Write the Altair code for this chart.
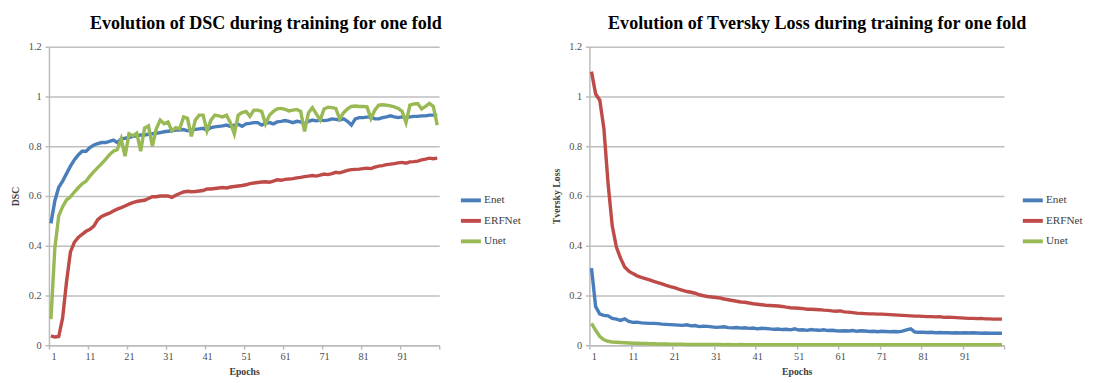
import altair as alt
import pandas as pd

models = ["Enet", "ERFNet", "Unet"]
colors = ["#4A7EBB", "#BE4B48", "#98B954"]
epochs = list(range(1, 101))

dsc_enet = [
    0.49, 0.58, 0.635, 0.66, 0.69, 0.72, 0.745, 0.765, 0.78, 0.78,
    0.795, 0.805, 0.81, 0.815, 0.815, 0.82, 0.825, 0.815, 0.83, 0.832,
    0.835, 0.84, 0.842, 0.845, 0.845, 0.848, 0.85, 0.852, 0.855, 0.858,
    0.86, 0.862, 0.865, 0.865, 0.867, 0.862, 0.865, 0.868, 0.87, 0.872,
    0.865, 0.875, 0.878, 0.88, 0.882, 0.885, 0.88, 0.885, 0.888, 0.88,
    0.89, 0.892, 0.895, 0.895, 0.885, 0.893, 0.895, 0.89, 0.898, 0.9,
    0.903, 0.9, 0.895, 0.9, 0.898, 0.89, 0.9, 0.905, 0.902, 0.905,
    0.903, 0.905, 0.91, 0.908, 0.905, 0.91, 0.9, 0.885, 0.91, 0.915,
    0.915, 0.917, 0.918, 0.91, 0.91, 0.915, 0.918, 0.922, 0.918, 0.915,
    0.918, 0.915, 0.918, 0.92, 0.92, 0.922, 0.922, 0.925, 0.925, 0.925,
]
dsc_erfnet = [
    0.038, 0.033, 0.035, 0.11, 0.255, 0.375, 0.414, 0.433, 0.446, 0.458,
    0.466, 0.479, 0.505, 0.518, 0.525, 0.531, 0.54, 0.547, 0.553, 0.56,
    0.567, 0.573, 0.578, 0.581, 0.583, 0.59, 0.597, 0.597, 0.6, 0.6,
    0.6, 0.594, 0.603, 0.61, 0.616, 0.619, 0.617, 0.618, 0.62, 0.622,
    0.628, 0.628, 0.63, 0.632, 0.634, 0.632, 0.636, 0.638, 0.64, 0.642,
    0.645, 0.65, 0.652, 0.654, 0.656, 0.657, 0.655, 0.66, 0.665, 0.663,
    0.667, 0.668, 0.67, 0.673, 0.675, 0.678, 0.68, 0.682, 0.68, 0.684,
    0.688, 0.686, 0.69, 0.695, 0.693, 0.698, 0.703, 0.706, 0.707, 0.708,
    0.71, 0.712, 0.71, 0.716, 0.72, 0.722, 0.726, 0.728, 0.73, 0.733,
    0.735, 0.732, 0.737, 0.738, 0.74, 0.745, 0.748, 0.752, 0.75, 0.752,
]
dsc_unet = [
    0.105, 0.39, 0.52, 0.557, 0.584, 0.597, 0.616, 0.633, 0.649, 0.659,
    0.68, 0.698, 0.714, 0.73, 0.747, 0.766, 0.78, 0.786, 0.83, 0.76,
    0.85, 0.842, 0.853, 0.78, 0.873, 0.882, 0.80, 0.87, 0.905, 0.89,
    0.897, 0.862, 0.875, 0.87, 0.918, 0.912, 0.84, 0.905, 0.925, 0.925,
    0.862, 0.905, 0.925, 0.922, 0.918, 0.925, 0.895, 0.85, 0.925, 0.935,
    0.94, 0.92, 0.945, 0.945, 0.94, 0.89, 0.925, 0.94, 0.95, 0.952,
    0.948, 0.942, 0.945, 0.948, 0.94, 0.86, 0.935, 0.955, 0.93, 0.905,
    0.95, 0.957, 0.955, 0.952, 0.91, 0.935, 0.95, 0.96, 0.962, 0.96,
    0.96, 0.958, 0.912, 0.945, 0.965, 0.967, 0.965, 0.962, 0.958, 0.952,
    0.94, 0.895, 0.965, 0.97, 0.972, 0.95, 0.96, 0.972, 0.96, 0.885,
]

tv_enet = [
    0.31, 0.155, 0.125, 0.12, 0.118, 0.108, 0.105, 0.1, 0.106, 0.096,
    0.092, 0.093, 0.09, 0.089, 0.088, 0.088, 0.087, 0.085, 0.084, 0.083,
    0.082, 0.081, 0.08, 0.082, 0.078, 0.079, 0.075, 0.077, 0.076, 0.074,
    0.072, 0.073, 0.074, 0.071, 0.07, 0.071, 0.069, 0.07, 0.068, 0.069,
    0.066, 0.068, 0.067, 0.066, 0.064, 0.065, 0.063, 0.064, 0.062, 0.066,
    0.061, 0.062, 0.06, 0.063, 0.061, 0.06, 0.062, 0.059, 0.06, 0.058,
    0.057, 0.058, 0.057, 0.059, 0.056, 0.058, 0.057, 0.055, 0.056, 0.054,
    0.056, 0.055, 0.054, 0.055, 0.054, 0.057, 0.062, 0.066, 0.053, 0.052,
    0.052, 0.051, 0.052, 0.05, 0.051, 0.05, 0.05, 0.049, 0.05, 0.049,
    0.05, 0.049, 0.05, 0.049, 0.048, 0.049, 0.048, 0.048, 0.048, 0.048,
]
tv_erfnet = [
    1.10, 1.01, 0.985, 0.87, 0.65, 0.48, 0.395, 0.35, 0.315, 0.298,
    0.288, 0.279, 0.273, 0.268, 0.263, 0.257, 0.252, 0.247, 0.241, 0.236,
    0.232, 0.226, 0.221, 0.216, 0.213, 0.209, 0.203, 0.199, 0.196, 0.194,
    0.192, 0.19, 0.186, 0.183, 0.18, 0.177, 0.174, 0.173, 0.17, 0.167,
    0.165, 0.163, 0.161, 0.16, 0.159, 0.158, 0.156, 0.153, 0.151, 0.15,
    0.149, 0.147, 0.145, 0.145, 0.144, 0.143, 0.141, 0.14, 0.138, 0.137,
    0.138, 0.134, 0.133, 0.131, 0.129, 0.128, 0.127, 0.126, 0.126, 0.125,
    0.125, 0.124, 0.123, 0.122, 0.121, 0.12, 0.119, 0.118, 0.117, 0.117,
    0.116, 0.115, 0.115, 0.114, 0.115, 0.112, 0.113, 0.112, 0.111, 0.11,
    0.109, 0.108, 0.108, 0.107, 0.108, 0.106, 0.106, 0.105, 0.105, 0.105,
]
tv_unet = [
    0.088, 0.06, 0.035, 0.022, 0.016, 0.013, 0.012, 0.011, 0.01, 0.009,
    0.008, 0.008, 0.007, 0.007, 0.006, 0.006, 0.005, 0.005, 0.005, 0.004,
    0.004, 0.004, 0.004, 0.003, 0.003, 0.003, 0.003, 0.003, 0.003, 0.003,
    0.003, 0.003, 0.002, 0.003, 0.002, 0.002, 0.003, 0.002, 0.002, 0.002,
    0.002, 0.002, 0.002, 0.002, 0.002, 0.002, 0.002, 0.002, 0.002, 0.002,
    0.002, 0.002, 0.002, 0.002, 0.002, 0.002, 0.002, 0.002, 0.002, 0.002,
    0.002, 0.002, 0.002, 0.002, 0.002, 0.002, 0.002, 0.002, 0.002, 0.002,
    0.002, 0.002, 0.002, 0.002, 0.002, 0.002, 0.002, 0.002, 0.002, 0.002,
    0.002, 0.002, 0.002, 0.002, 0.002, 0.002, 0.002, 0.002, 0.002, 0.002,
    0.002, 0.002, 0.002, 0.002, 0.002, 0.002, 0.002, 0.002, 0.002, 0.002,
]

x_tick_values = [0.5 + 10 * i for i in range(11)]
y_tick_values = [0, 0.2, 0.4, 0.6, 0.8, 1.0, 1.2]

SERIF = "Liberation Serif"


def long_frame(series):
    rows = []
    for name, vals in zip(models, series):
        for e, v in zip(epochs, vals):
            rows.append({"epoch": e, "value": v, "model": name})
    return pd.DataFrame(rows)


def panel(df, title, ytitle, width, legend_x):
    return alt.Chart(df).mark_line(strokeWidth=3.5).encode(
        x=alt.X(
            "epoch:Q",
            scale=alt.Scale(domain=[0.5, 100.5], nice=False, zero=False),
            axis=alt.Axis(
                title="Epochs",
                values=x_tick_values,
                labelExpr="datum.value > 100 ? '' : format(datum.value + 0.5, 'd')",
                labelOffset=2,
                grid=False,
                tickSize=4,
                labelPadding=3,
                titlePadding=4,
            ),
        ),
        y=alt.Y(
            "value:Q",
            scale=alt.Scale(domain=[0, 1.2], nice=False),
            axis=alt.Axis(
                title=ytitle,
                values=y_tick_values,
                format="~g",
                tickSize=4,
                labelPadding=4,
                titlePadding=8,
            ),
        ),
        color=alt.Color(
            "model:N",
            scale=alt.Scale(domain=models, range=colors),
            legend=alt.Legend(
                title="",
                orient="none",
                legendX=legend_x,
                legendY=145,
                symbolType="stroke",
                symbolSize=420,
                symbolStrokeWidth=4,
                rowPadding=0,
                labelOffset=1,
                padding=0,
                labelFont=SERIF,
                labelFontSize=11.5,
                labelColor="#404040",
            ),
        ),
        order="epoch:Q",
    ).properties(
        width=width,
        height=306,
        title=alt.TitleParams(
            text=title,
            font=SERIF,
            fontSize=18.5,
            fontWeight="bold",
            color="#000000",
            anchor="middle",
            frame="bounds",
            offset=10,
        ),
    )


left = panel(
    long_frame([dsc_enet, dsc_erfnet, dsc_unet]),
    "Evolution of DSC during training for one fold",
    "DSC",
    400,
    420,
)
right = panel(
    long_frame([tv_enet, tv_erfnet, tv_unet]),
    "Evolution of Tversky Loss during training for one fold",
    "Tversky Loss",
    425,
    442,
)

chart = (
    alt.hconcat(left, right, spacing=30)
    .resolve_scale(color="independent")
    .resolve_legend(color="independent")
    .properties(padding={"left": 2, "top": 1, "right": 2, "bottom": 2})
    .configure_view(stroke=None)
    .configure_axis(
        labelFont=SERIF,
        labelFontSize=10.5,
        labelColor="#4D4D4D",
        titleFont=SERIF,
        titleFontSize=10,
        titleFontWeight="bold",
        titleColor="#404040",
        domainColor="#BBBBBB",
        domainWidth=1.5,
        tickColor="#BBBBBB",
        tickWidth=1.5,
        gridColor="#BEBEBE",
        gridWidth=1.5,
    )
)

chart.save("out.html", embed_options={"renderer": "svg", "actions": False})
